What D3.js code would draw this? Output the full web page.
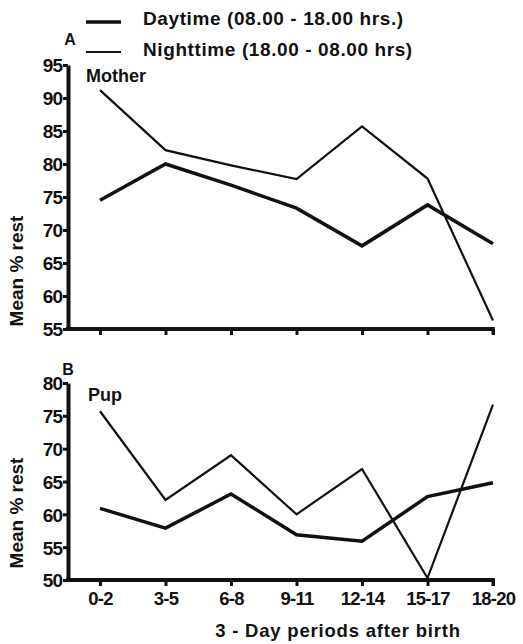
<!DOCTYPE html>
<html>
<head>
<meta charset="utf-8">
<script src="https://d3js.org/d3.v7.min.js"></script>
<style>
  body { margin: 0; background: #fff; }
  text { font-family: "Liberation Sans", Arial, sans-serif; font-weight: bold; fill: #111; }
</style>
</head>
<body>
<svg width="523" height="644"></svg>
<script>
// periods on the x axis
var periods = ["0-2", "3-5", "6-8", "9-11", "12-14", "15-17", "18-20"];

// panel A - mother
var motherDay   = [74.5, 80.0, 76.8, 73.3, 67.6, 73.8, 67.9];
var motherNight = [91.2, 82.1, 79.8, 77.7, 85.7, 77.8, 56.3];
var motherTicks = [55, 60, 65, 70, 75, 80, 85, 90, 95];

// panel B - pup
var pupDay   = [60.9, 57.9, 63.1, 56.9, 55.9, 62.7, 64.8];
var pupNight = [75.7, 62.2, 69.0, 60.0, 66.9, 50.3, 76.7];
var pupTicks = [50, 55, 60, 65, 70, 75, 80];

var svg = d3.select("svg");
var axisX = 68;

var x = d3.scalePoint()
    .domain(periods)
    .range([100, 493]);

function panel(opts) {
    var y = d3.scaleLinear().domain(opts.domain).range([opts.bottom, opts.top]);
    var g = svg.append("g");

    // y axis
    var ya = g.append("g")
        .attr("transform", "translate(" + axisX + ",0)")
        .call(d3.axisLeft(y).tickValues(opts.ticks).tickSize(5).tickSizeOuter(0).tickPadding(1));
    ya.select(".domain").attr("stroke", "#111").attr("stroke-width", 4);
    ya.selectAll(".tick line").attr("stroke", "#111").attr("stroke-width", 3);
    ya.selectAll(".tick text")
        .style("font-size", "19px")
        .attr("dy", "0.36em")
        .attr("letter-spacing", "-1");

    // x axis
    var xa = g.append("g")
        .attr("transform", "translate(0," + opts.bottom + ")")
        .call(d3.axisBottom(x).tickSize(6).tickSizeOuter(0).tickPadding(6));
    xa.select(".domain").remove();
    xa.selectAll(".tick line").attr("stroke", "#111").attr("stroke-width", 3);
    if (opts.showLabels) {
        xa.selectAll(".tick text").style("font-size", "18.5px").attr("letter-spacing", "-0.8");
    } else {
        xa.selectAll(".tick text").remove();
    }
    g.append("line")
        .attr("x1", axisX - 2).attr("x2", x(periods[periods.length - 1]) + 1.5)
        .attr("y1", opts.bottom).attr("y2", opts.bottom)
        .attr("stroke", "#111").attr("stroke-width", 4);
    // right end tick
    g.append("line")
        .attr("x1", x(periods[periods.length - 1])).attr("x2", x(periods[periods.length - 1]))
        .attr("y1", opts.bottom - 2).attr("y2", opts.bottom + 6)
        .attr("stroke", "#111").attr("stroke-width", 3);

    var line = d3.line()
        .x(function(d, i) { return x(periods[i]); })
        .y(function(d) { return y(d); });

    g.append("path").datum(opts.night)
        .attr("fill", "none").attr("stroke", "#111").attr("stroke-width", 2.2)
        .attr("stroke-linejoin", "miter").attr("d", line);
    g.append("path").datum(opts.day)
        .attr("fill", "none").attr("stroke", "#111").attr("stroke-width", 3.5)
        .attr("stroke-linejoin", "miter").attr("d", line);

    // y label
    g.append("text")
        .attr("transform", "translate(23," + opts.labelY + ") rotate(-90)")
        .attr("text-anchor", "middle")
        .style("font-size", "19px")
        .text("Mean % rest");

    g.append("text").attr("x", opts.letterX).attr("y", opts.letterY)
        .attr("text-anchor", "middle").style("font-size", "16px").text(opts.letter);
    g.append("text").attr("x", opts.nameX).attr("y", opts.nameY)
        .style("font-size", "18px").text(opts.name);
}

panel({
    domain: [55, 95], top: 65, bottom: 329, ticks: motherTicks,
    day: motherDay, night: motherNight, showLabels: false,
    labelY: 271, letter: "A", letterX: 70, letterY: 45,
    name: "Mother", nameX: 86, nameY: 82
});

panel({
    domain: [50, 80], top: 383, bottom: 580, ticks: pupTicks,
    day: pupDay, night: pupNight, showLabels: true,
    labelY: 513, letter: "B", letterX: 68, letterY: 375,
    name: "Pup", nameX: 88, nameY: 401
});

// x title
svg.append("text")
    .attr("x", 338).attr("y", 637)
    .attr("text-anchor", "middle")
    .attr("letter-spacing", "0.8")
    .style("font-size", "18.5px")
    .text("3 - Day periods  after birth");

// legend
var legend = [
    {label: "Daytime  (08.00 - 18.00 hrs.)", width: 3.5, y: 22, base: 25},
    {label: "Nighttime  (18.00 - 08.00 hrs)", width: 2, y: 52, base: 56}
];
var lg = svg.append("g").selectAll("g").data(legend).join("g");
lg.append("line")
    .attr("x1", 86).attr("x2", 121)
    .attr("y1", function(d) { return d.y; }).attr("y2", function(d) { return d.y; })
    .attr("stroke", "#111").attr("stroke-width", function(d) { return d.width; });
lg.append("text")
    .attr("x", 143).attr("y", function(d) { return d.base; })
    .attr("letter-spacing", "0.6")
    .style("font-size", "19px")
    .text(function(d) { return d.label; });
</script>
</body>
</html>
